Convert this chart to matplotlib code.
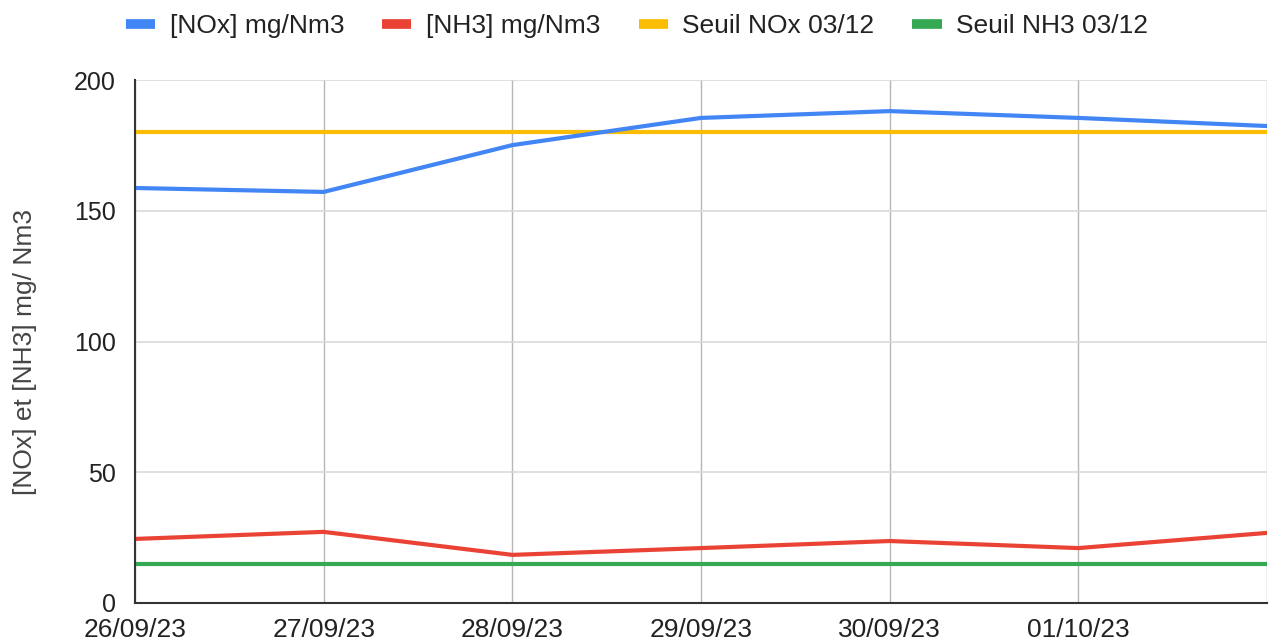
import matplotlib.pyplot as plt
from matplotlib.lines import Line2D

plt.rcParams['font.family'] = ['Liberation Sans', 'DejaVu Sans']

dates = ["26/09/23", "27/09/23", "28/09/23", "29/09/23", "30/09/23", "01/10/23", "02/10/23"]
nox = [158.7, 157.2, 175.1, 185.5, 188.1, 185.5, 182.4]
nh3 = [24.5, 27.2, 18.4, 21.0, 23.7, 21.0, 26.8]
seuil_nox = [180, 180, 180, 180, 180, 180, 180]
seuil_nh3 = [15, 15, 15, 15, 15, 15, 15]

series_names = ["[NOx] mg/Nm3", "[NH3] mg/Nm3", "Seuil NOx 03/12", "Seuil NH3 03/12"]
colors = ["#4285F4", "#EA4335", "#FBBC04", "#34A853"]

fig = plt.figure(figsize=(12.69, 6.41), dpi=100)
ax = fig.add_axes([135 / 1269, 38 / 641, (1267 - 135) / 1269, (603 - 80) / 641])

x = list(range(len(dates)))
for vals, c in zip([seuil_nh3, seuil_nox, nh3, nox], [colors[3], colors[2], colors[1], colors[0]]):
    ax.plot(x, vals, color=c, lw=3, solid_capstyle='round', solid_joinstyle='round', zorder=3)

ax.set_xlim(0, len(dates) - 1)
ax.set_ylim(0, 200)
ax.set_yticks([0, 50, 100, 150, 200])
ax.set_xticks(x)
ax.set_xticklabels(dates[:-1] + [""])

ax.grid(axis='y', color='#d9d9d9', lw=1.2)
ax.grid(axis='x', color='#b7b7b7', lw=1.0)
ax.set_axisbelow(True)

for s in ['top', 'right']:
    ax.spines[s].set_visible(False)
for s in ['left', 'bottom']:
    ax.spines[s].set_color('#333333')
    ax.spines[s].set_linewidth(1.5)
    ax.spines[s].set_zorder(4)

ax.tick_params(axis='x', length=0, labelsize=19, colors='#222222', pad=11)
ax.tick_params(axis='y', length=0, labelsize=18, colors='#222222', pad=14)
ax.set_ylabel("[NOx] et [NH3] mg/ Nm3", fontsize=19, color='#444444')
ax.yaxis.set_label_coords(-0.087, 0.48)

handles = [Line2D([0], [0], color=c, lw=7, solid_capstyle='butt') for c in colors]
fig.legend(handles, series_names, loc='upper center', bbox_to_anchor=(0.502, 1.015), ncol=4,
           frameon=False, fontsize=19, handlelength=1.1, handletextpad=0.55, columnspacing=1.45,
           labelcolor='#222222')

fig.savefig("out.png", dpi=100)
